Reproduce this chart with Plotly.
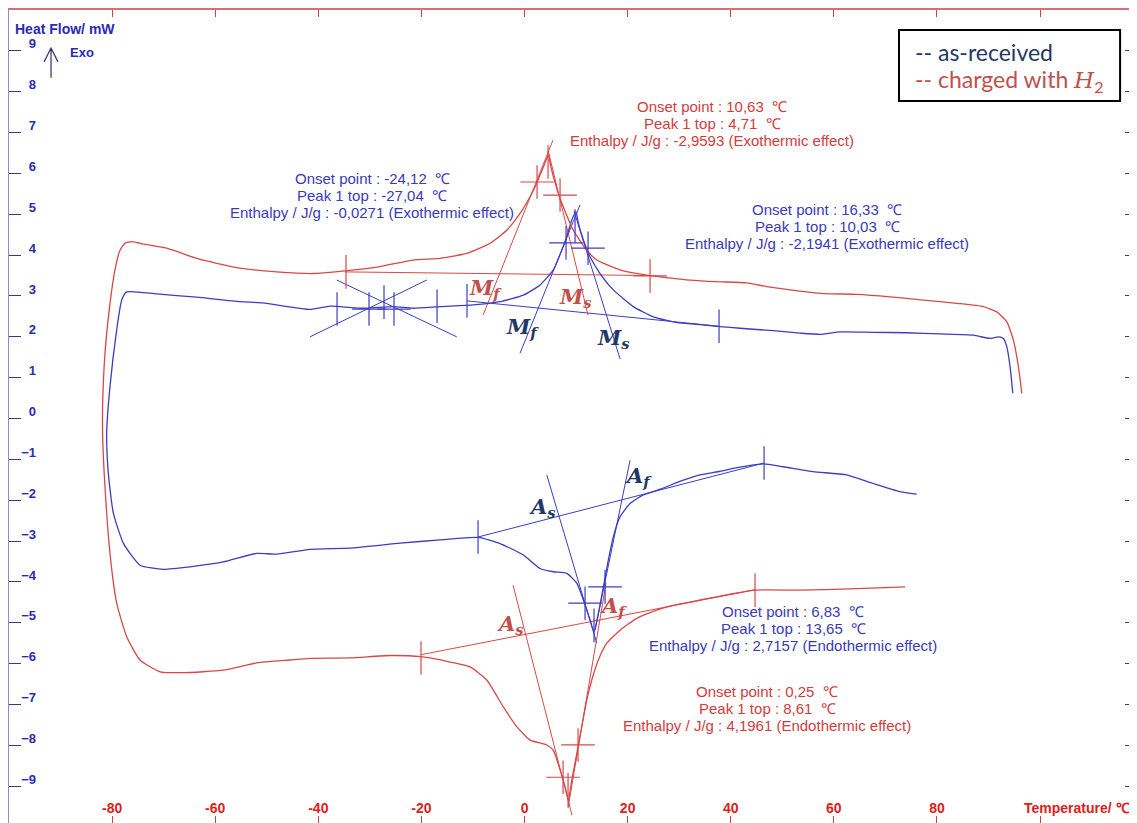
import plotly.graph_objects as go

BLUE = "#3d3dc2"
RED = "#d84848"
BLUE_TXT = "#3a3ab8"
RED_TXT = "#d23c3c"
NAVY = "#1f3864"
BRICK = "#c0504d"

# as-received: cooling branch (right -> left), then heating branch (left -> right)
blue_T = [94.71, 94.18, 93.54, 92.88, 91.91, 90.30, 87.06, 80.60, 74.14, 67.66,
          61.20, 57.32, 53.44, 48.26, 41.80, 37.92, 34.04, 29.52, 24.98, 21.11,
          17.23, 14.65, 12.71, 11.41, 10.44, 9.99, 9.16, 8.19, 7.22, 5.59,
          3.01, -0.23, -4.75, -9.93, -16.39, -21.57, -25.45, -31.27, -37.73, -41.61,
          -50.73, -55.19, -63.59, -71.35, -77.17, -78.14, -79.11, -80.41, -81.05, -80.74,
          -79.77, -77.83, -74.59, -70.07, -64.89, -58.43, -51.95, -48.07, -41.61, -33.85,
          -24.15, -16.39, -8.96, -4.75, -0.23, 3.01, 5.59, 8.19, 10.13, 11.41,
          12.71, 13.48, 14.32, 15.29, 16.26, 17.23, 18.53, 20.47, 23.05, 26.29,
          30.81, 34.04, 37.92, 41.80, 46.33, 50.15, 55.97, 62.50, 67.61, 72.84, 76.08]
blue_HF = [0.62, 1.27, 1.76, 1.96, 2.00, 1.96, 2.04, 2.07, 2.10, 2.11,
           2.12, 2.06, 2.09, 2.15, 2.21, 2.25, 2.30, 2.35, 2.49, 2.74,
           3.15, 3.55, 3.96, 4.37, 4.78, 5.06, 4.86, 4.45, 4.12, 3.64,
           3.27, 3.02, 2.86, 2.78, 2.74, 2.70, 2.74, 2.70, 2.75, 2.67,
           2.83, 2.86, 2.97, 3.05, 3.10, 2.90, 2.17, 0.78, -0.35, -1.33,
           -2.31, -3.05, -3.59, -3.69, -3.63, -3.51, -3.30, -3.32, -3.20, -3.17,
           -3.05, -2.97, -2.91, -3.06, -3.34, -3.67, -3.75, -3.79, -4.03, -4.44,
           -4.93, -5.22, -4.77, -4.12, -3.46, -2.89, -2.40, -2.08, -1.87, -1.73,
           -1.51, -1.38, -1.29, -1.19, -1.11, -1.18, -1.30, -1.38, -1.59, -1.79, -1.85]

# charged with H2
red_T = [96.45, 95.80, 94.82, 93.54, 91.60, 89.00, 83.84, 77.36, 70.90, 64.44,
         57.96, 51.50, 46.98, 43.10, 37.28, 32.10, 26.29, 23.70, 18.53, 14.01,
         12.07, 9.47, 7.53, 6.56, 5.59, 4.95, 4.62, 3.65, 2.37, 1.07,
         -0.87, -3.45, -6.69, -11.21, -16.39, -21.57, -28.03, -34.49, -40.97, -48.07,
         -55.19, -59.71, -63.59, -69.41, -74.59, -76.20, -77.50, -78.47, -79.44, -80.41,
         -81.38, -81.83, -81.83, -81.38, -80.41, -79.11, -77.17, -74.59, -70.71, -66.19,
         -58.43, -51.95, -45.49, -41.61, -33.85, -26.09, -20.08, -14.45, -10.57, -7.33,
         -4.11, -1.51, 1.07, 4.31, 5.59, 6.89, 7.86, 8.50, 9.16, 10.13,
         11.10, 12.07, 13.04, 14.32, 15.95, 18.53, 21.77, 25.65, 28.23, 34.04,
         39.87, 44.71, 53.44, 63.15, 73.81]
red_HF = [0.62, 1.27, 1.92, 2.37, 2.61, 2.74, 2.82, 2.90, 2.98, 3.04,
          3.06, 3.15, 3.23, 3.32, 3.35, 3.39, 3.47, 3.51, 3.64, 3.88,
          4.12, 4.61, 5.18, 5.51, 5.92, 6.25, 6.44, 6.16, 5.76, 5.43,
          5.02, 4.61, 4.29, 4.04, 3.92, 3.88, 3.72, 3.62, 3.55, 3.59,
          3.68, 3.80, 3.92, 4.17, 4.29, 4.33, 4.29, 4.12, 3.64, 2.82,
          1.60, 0.37, -0.45, -1.67, -3.30, -4.52, -5.34, -5.91, -6.20, -6.22,
          -6.16, -5.98, -5.91, -5.87, -5.86, -5.80, -5.83, -5.96, -6.08, -6.40,
          -7.06, -7.54, -7.87, -7.99, -8.12, -8.60, -9.01, -9.34, -8.85, -8.20,
          -7.54, -6.89, -6.40, -5.91, -5.50, -5.18, -4.89, -4.69, -4.59, -4.44,
          -4.30, -4.20, -4.20, -4.17, -4.12]

# evaluation lines (baselines and tangents): (T0, HF0, T1, HF1)
blue_lines = [(-11.16, 2.88, 37.73, 2.26), (-0.87, 1.60, 10.77, 5.23), (9.60, 5.08, 18.53, 1.46),
              (-41.61, 2.00, -18.97, 3.39), (-36.43, 3.39, -13.15, 2.00),
              (-9.02, -2.90, 46.46, -1.09), (4.31, -1.38, 14.01, -5.50), (20.47, -1.02, 13.68, -5.18)]
red_lines = [(-34.82, 3.59, 24.35, 3.50), (-8.05, 2.53, 5.53, 6.82), (4.56, 6.57, 12.32, 2.53),
             (-20.08, -5.78, 44.71, -4.19), (-2.23, -4.08, 9.21, -9.71), (15.81, -4.03, 8.44, -9.53)]

# evaluation marks
blue_cross_T = [-30.17, -25.32, 8.05, 12.32, 11.74, 15.62]
blue_cross_HF = [2.68, 2.68, 4.30, 4.17, -4.52, -4.12]
blue_tick_T = [-36.37, -27.26, -16.97, -11.16, 9.80, 37.73, -9.02, 13.48, 46.46]
blue_tick_HF = [2.68, 2.85, 2.75, 2.88, 4.71, 2.26, -2.90, -5.06, -1.09]
red_cross_T = [2.43, 6.89, 24.35, 7.47, 10.38]
red_cross_HF = [5.79, 5.47, 3.49, -8.78, -7.99]
red_tick_T = [-34.63, 4.56, -20.08, 8.44, 44.71]
red_tick_HF = [3.59, 6.28, -5.86, -9.09, -4.20]

y_ticks = list(range(-9, 10))
x_ticks = list(range(-80, 101, 20))
x_ticktext = [str(v) for v in x_ticks[:-1]] + [""]

FONT = "Liberation Sans, Arial"


def seg_xy(lines):
    xs, ys = [], []
    for t0, h0, t1, h1 in lines:
        xs += [t0, t1, None]
        ys += [h0, h1, None]
    return xs, ys


fig = go.Figure()

for lines, col in [(blue_lines, BLUE), (red_lines, RED)]:
    xs, ys = seg_xy(lines)
    fig.add_trace(go.Scatter(x=xs, y=ys, mode="lines", line=dict(color=col, width=1),
                             hoverinfo="skip", showlegend=False))

fig.add_trace(go.Scatter(x=blue_T, y=blue_HF, mode="lines", name="as-received",
                         line=dict(color=BLUE, width=1.3, shape="spline", smoothing=0.5),
                         showlegend=False))
fig.add_trace(go.Scatter(x=red_T, y=red_HF, mode="lines", name="charged with H2",
                         line=dict(color=RED, width=1.3, shape="spline", smoothing=0.5),
                         showlegend=False))

for tx, ty, sym, col in [(blue_cross_T, blue_cross_HF, "cross-thin-open", BLUE),
                         (blue_tick_T, blue_tick_HF, "line-ns-open", BLUE),
                         (red_cross_T, red_cross_HF, "cross-thin-open", RED),
                         (red_tick_T, red_tick_HF, "line-ns-open", RED)]:
    fig.add_trace(go.Scatter(x=tx, y=ty, mode="markers", hoverinfo="skip", showlegend=False,
                             marker=dict(symbol=sym, size=24, color=col,
                                         line=dict(color=col, width=1.2))))

# carrier for the tick-label axis
fig.add_trace(go.Scatter(x=[None], y=[None], yaxis="y2", showlegend=False, hoverinfo="skip"))

info = [
    (36.37, 7.23, RED_TXT, ["Onset point : 10,63  ℃", "Peak 1 top : 4,71  ℃",
                            "Enthalpy / J/g : -2,9593 (Exothermic effect)"]),
    (-29.58, 5.45, BLUE_TXT, ["Onset point : -24,12  ℃", "Peak 1 top : -27,04  ℃",
                              "Enthalpy / J/g : -0,0271 (Exothermic effect)"]),
    (58.68, 4.71, BLUE_TXT, ["Onset point : 16,33  ℃", "Peak 1 top : 10,03  ℃",
                             "Enthalpy / J/g : -2,1941 (Exothermic effect)"]),
    (52.09, -5.13, BLUE_TXT, ["Onset point : 6,83  ℃", "Peak 1 top : 13,65  ℃",
                              "Enthalpy / J/g : 2,7157 (Endothermic effect)"]),
    (47.04, -7.09, RED_TXT, ["Onset point : 0,25  ℃", "Peak 1 top : 8,61  ℃",
                             "Enthalpy / J/g : 4,1961 (Endothermic effect)"]),
]
for tx, ty, col, lines in info:
    for k, line in enumerate(lines):
        fig.add_annotation(x=tx, y=ty + (1 - k) * 0.416, text=line, showarrow=False,
                           xanchor="center", yanchor="middle",
                           font=dict(family=FONT, size=15, color=col))

phase_labels = [
    (-7.66, 3.19, "M", "f", BRICK), (9.80, 2.97, "M", "s", BRICK),
    (-0.49, 2.22, "M", "f", NAVY), (17.17, 1.97, "M", "s", NAVY),
    (3.40, -2.17, "A", "s", NAVY), (22.02, -1.43, "A", "f", NAVY),
    (-2.81, -5.03, "A", "s", BRICK), (17.17, -4.61, "A", "f", BRICK),
]
for tx, ty, big, sub, col in phase_labels:
    fig.add_annotation(x=tx, y=ty, text=f"<b><i>{big}</i></b><sub><b><i>{sub}</i></b></sub>",
                       showarrow=False, xanchor="center", yanchor="middle",
                       font=dict(family="DejaVu Serif", size=21, color=col))

fig.add_annotation(x=0.0035, y=0.9766, xref="paper", yref="paper", text="<b>Heat Flow/ mW</b>",
                   showarrow=False, xanchor="left", yanchor="middle",
                   font=dict(family=FONT, size=14, color="#2a2ab4"))
fig.add_annotation(x=-85.9, y=8.95, text="<b>Exo</b>", showarrow=False,
                   font=dict(family=FONT, size=13, color="#2a2ab4"))
fig.add_annotation(x=0.9955, y=0.0185, xref="paper", yref="paper", text="<b>Temperature/ ℃</b>",
                   showarrow=False, xanchor="right", yanchor="middle",
                   font=dict(family=FONT, size=14, color="#dd2020"))
fig.add_shape(type="path", path="M -91.85 8.34 L -91.85 9.07 M -93.2 8.73 L -91.85 9.07 L -90.5 8.73",
              line=dict(color="#30307a", width=1.2))

# legend box
fig.add_shape(type="rect", xref="paper", yref="paper", x0=0.789, x1=0.985, y0=0.888, y1=0.9754,
              line=dict(color="#000000", width=2), fillcolor="#ffffff", layer="above")
fig.add_annotation(x=0.8014, y=0.9483, xref="paper", yref="paper", xanchor="left", yanchor="middle",
                   text="-- as-received", showarrow=False,
                   font=dict(family="Lato, Open Sans", size=23, color=NAVY))
fig.add_annotation(x=0.8014, y=0.9127, xref="paper", yref="paper", xanchor="left", yanchor="middle",
                   text="-- charged with <span style='font-family:DejaVu Serif'><i>H</i></span><sub>2</sub>",
                   showarrow=False, font=dict(family="Lato, Open Sans", size=23, color=BRICK))

fig.update_layout(
    width=1129, height=815,
    margin=dict(l=1, r=0, t=2, b=0),
    paper_bgcolor="#ffffff", plot_bgcolor="#ffffff",
    showlegend=False,
    xaxis=dict(range=[-100, 118.8], tickvals=x_ticks, ticktext=x_ticktext, automargin=False,
               ticks="inside", ticklen=7, tickcolor="#d84040", tickwidth=1,
               ticklabelposition="inside", showline=True, linecolor="#d87070", linewidth=1.5,
               mirror="ticks", showgrid=False, zeroline=False,
               tickfont=dict(family=FONT, size=14, color="#dd2020", weight="bold")),
    yaxis=dict(range=[-9.9, 10.0], tickvals=y_ticks, ticks="inside", ticklen=12, automargin=False,
               tickcolor="#3a3a7a", tickwidth=1, showticklabels=False,
               showline=True, linecolor="#8c8cc8", linewidth=2, mirror="ticks",
               showgrid=False, zeroline=False),
    yaxis2=dict(range=[-9.9, 10.0], tickvals=y_ticks, overlaying="y", anchor="free", automargin=False,
                position=0.0239, side="left", showline=False, ticks="", showgrid=False,
                zeroline=False, ticklabelshift=-7,
                tickfont=dict(family=FONT, size=13, color="#2a2ab4", weight="bold")),
)

fig.write_html("out.html")
